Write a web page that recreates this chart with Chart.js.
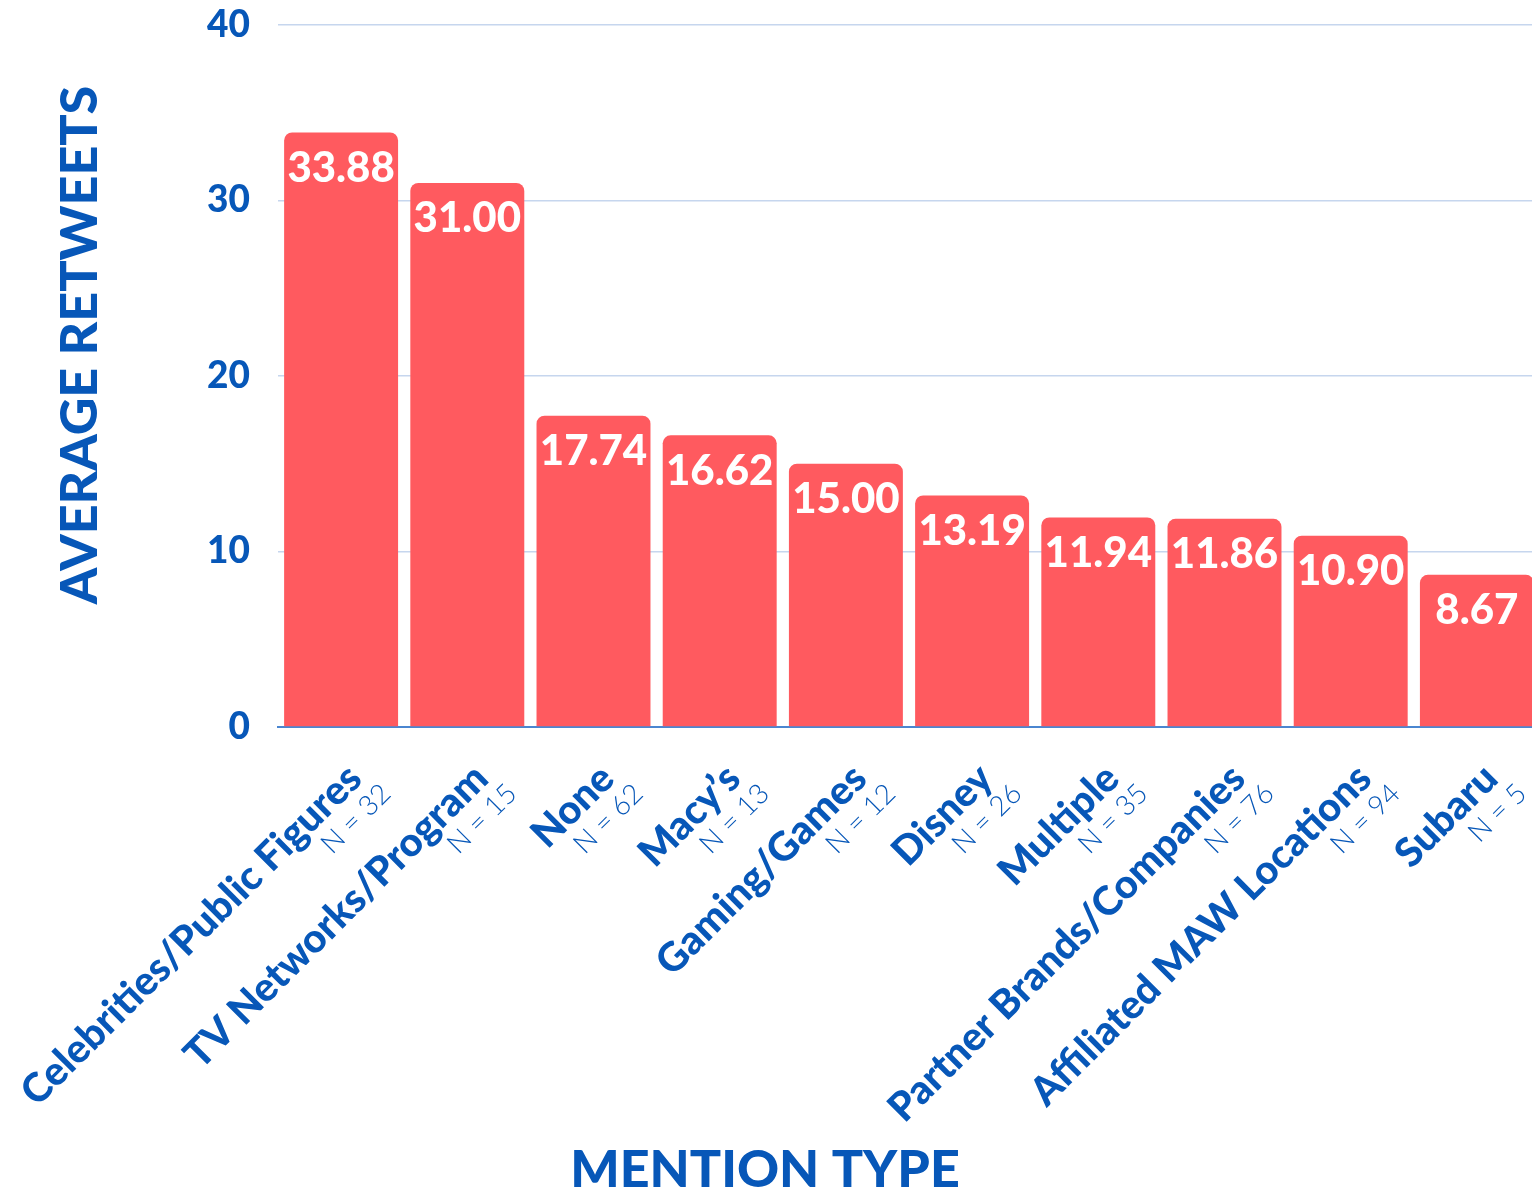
<!DOCTYPE html>
<html>
<head>
<meta charset="utf-8">
<script src="https://cdn.jsdelivr.net/npm/chart.js@4.4.1/dist/chart.umd.min.js"></script>
<style>
  html, body { margin: 0; padding: 0; background: #fff; overflow: hidden; }
  canvas { display: block; }
</style>
</head>
<body>
<!-- a few px wider than the window: the last bar is cut by the right edge in the original -->
<canvas id="chart" width="1540" height="1191"></canvas>
<script>
// Mention types, sample sizes and average retweets
const categories = [
    'Celebrities/Public Figures',
    'TV Networks/Program',
    'None',
    'Macy\u2019s',
    'Gaming/Games',
    'Disney',
    'Multiple',
    'Partner Brands/Companies',
    'Affiliated MAW Locations',
    'Subaru'
];
const sampleSizes = [32, 15, 62, 13, 12, 26, 35, 76, 94, 5];
const avgRetweets = [33.88, 31.00, 17.74, 16.62, 15.00, 13.19, 11.94, 11.86, 10.90, 8.67];
const yTicks = [0, 10, 20, 30, 40];

const BLUE = '#0757b8';
const BAR = '#ff5a5f';
const FONT = "Lato, 'Open Sans', sans-serif";

new Chart(document.getElementById('chart'), {
    type: 'bar',
    data: {
        labels: categories,
        datasets: [{
            data: avgRetweets,
            backgroundColor: BAR,
            borderRadius: { topLeft: 8, topRight: 8, bottomLeft: 0, bottomRight: 0 },
            borderSkipped: 'start',
            barPercentage: 0.903,
            categoryPercentage: 1.0,
        }],
    },
    options: {
        animation: false,
        responsive: false,
        layout: { padding: { top: 25, right: 0, bottom: 0, left: 0 } },
        plugins: {
            legend: { display: false },
            tooltip: { enabled: false },
        },
        scales: {
            x: {
                grid: { display: false },
                ticks: { display: false },
                border: { display: true, color: '#4a86d0', width: 2 },
                afterFit(scale) { scale.height = 464; },
            },
            y: {
                min: 0,
                max: 40,
                afterBuildTicks(scale) { scale.ticks = yTicks.map(v => ({ value: v })); },
                grid: {
                    color: ctx => ctx.tick && ctx.tick.value === 0 ? 'rgba(0,0,0,0)' : '#c6d6ee',
                    lineWidth: 1.5,
                    drawTicks: false,
                },
                border: { display: false },
                ticks: {
                    color: BLUE,
                    padding: 28,
                    font: { family: FONT, size: 37, weight: 900 },
                },
                afterFit(scale) {
                    scale.width = 278;
                    scale.paddingTop = 0;
                    scale.paddingBottom = 0;
                },
            }
        }
    },
    plugins: [{
        id: 'decorations',
        afterDatasetsDraw(chart) {
            const { ctx, scales: { x } } = chart;
            ctx.save();

            // value labels inside bar tops
            ctx.fillStyle = '#ffffff';
            ctx.textAlign = 'center';
            ctx.textBaseline = 'top';
            ctx.font = `900 42px ${FONT}`;
            chart.getDatasetMeta(0).data.forEach((bar, i) => {
                ctx.fillText(avgRetweets[i].toFixed(2), bar.x, bar.y + 15);
            });

            // rotated category labels with sample sizes
            categories.forEach((name, i) => {
                const cx = x.getPixelForValue(i);
                ctx.save();
                ctx.translate(cx + 23, 781);
                ctx.rotate(-Math.PI / 4);
                ctx.fillStyle = BLUE;
                ctx.textAlign = 'right';
                ctx.textBaseline = 'alphabetic';
                ctx.font = `900 40px ${FONT}`;
                ctx.fillText(name, 0, 0);
                ctx.font = `300 28px ${FONT}`;
                ctx.fillText('N = ' + sampleSizes[i], 10, 30);
                ctx.restore();
            });

            // axis titles
            ctx.fillStyle = BLUE;
            ctx.font = `900 52px ${FONT}`;
            ctx.textAlign = 'center';
            ctx.textBaseline = 'middle';
            ctx.fillText('MENTION TYPE', 765, 1170);
            ctx.save();
            ctx.translate(80, 345);
            ctx.rotate(-Math.PI / 2);
            ctx.fillText('AVERAGE RETWEETS', 0, 0);
            ctx.restore();

            ctx.restore();
        }
    }]
});
</script>
</body>
</html>
